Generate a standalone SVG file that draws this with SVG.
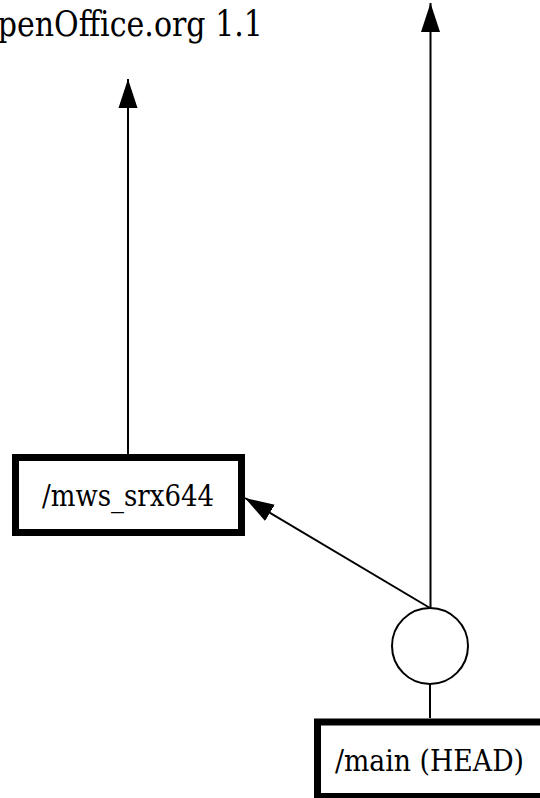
<svg xmlns="http://www.w3.org/2000/svg" width="540" height="798" viewBox="0 0 540 798">
<style>
text{font-family:'DejaVu Serif',serif;fill:#000}
.box{fill:#fff;stroke:#000;stroke-width:7}
.e{stroke:#000;stroke-width:2;fill:none}
</style>
<defs>
<marker id="ah" markerUnits="userSpaceOnUse" markerWidth="29" markerHeight="20" viewBox="0 -10 29 20" refX="29" refY="0" orient="auto">
<path d="M0,-9.5 L29,0 L0,9.5 Z" fill="#000"/>
</marker>
</defs>
<rect width="540" height="798" fill="#fff"/>
<g id="connectors">
<line class="e" x1="128" y1="454" x2="128" y2="79" marker-end="url(#ah)"/>
<line class="e" x1="430.5" y1="608" x2="430.5" y2="3" marker-end="url(#ah)"/>
<line class="e" x1="430" y1="608" x2="245" y2="498" marker-end="url(#ah)"/>
<line class="e" x1="430" y1="684" x2="430" y2="718"/>
</g>
<g id="label-oo">
<text x="-27" y="36" font-size="36" textLength="290" lengthAdjust="spacingAndGlyphs">OpenOffice.org 1.1</text>
</g>
<g id="node-mws">
<rect class="box" x="15.5" y="457.5" width="226" height="75"/>
<text x="42" y="506" font-size="29" textLength="172" lengthAdjust="spacingAndGlyphs">/mws_srx644</text>
</g>
<g id="node-point">
<circle cx="430" cy="646" r="38" fill="#fff" stroke="#000" stroke-width="2"/>
</g>
<g id="node-main">
<rect class="box" x="317.5" y="722" width="260" height="74.5"/>
<text x="335" y="771" font-size="29" textLength="189" lengthAdjust="spacingAndGlyphs">/main (HEAD)</text>
</g>
</svg>
